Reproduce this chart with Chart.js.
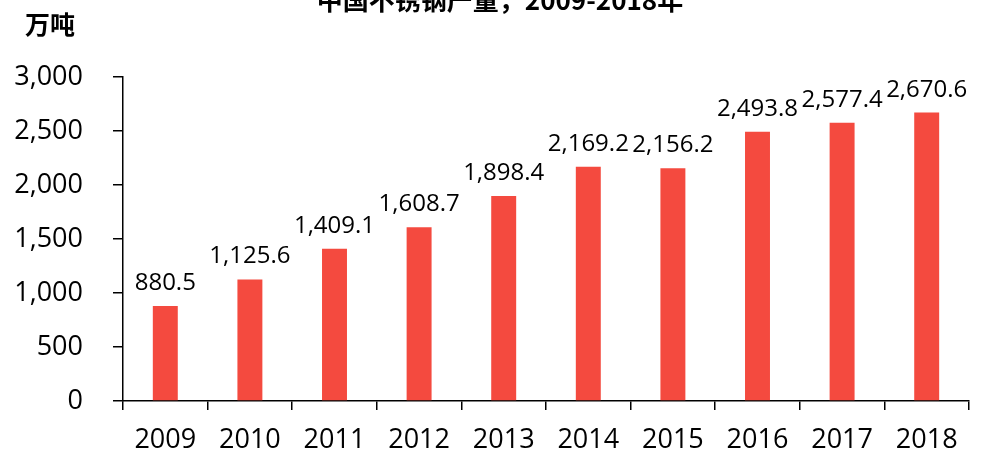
<!DOCTYPE html>
<html>
<head>
<meta charset="utf-8">
<script src="https://cdn.jsdelivr.net/npm/chart.js@4/dist/chart.umd.min.js"></script>
<style>
  html, body { margin: 0; padding: 0; background: #fff; }
  canvas { display: block; }
</style>
</head>
<body>
<canvas id="steelChart" width="984" height="451"></canvas>
<script>
// 年份 / 产量 (万吨)
const years = ['2009', '2010', '2011', '2012', '2013', '2014', '2015', '2016', '2017', '2018'];
const output = [880.5, 1125.6, 1409.1, 1608.7, 1898.4, 2169.2, 2156.2, 2493.8, 2577.4, 2670.6];
const chartTitle = '中国不锈钢产量，2009-2018年';
const unitLabel = '万吨';

const numFont = '"Open Sans", "Noto Sans", sans-serif';
const cjkFont = '"Noto Sans CJK SC", sans-serif';

// 标题、单位、数据标签
const textPlugin = {
    id: 'textPlugin',
    afterDatasetsDraw(chart){
        const ctx = chart.ctx;
        ctx.save();
        ctx.fillStyle = '#000';

        ctx.font = 'bold 26px ' + cjkFont;
        ctx.textAlign = 'center';
        ctx.textBaseline = 'alphabetic';
        ctx.fillText(chartTitle, 500, 10);

        ctx.font = 'bold 25px ' + cjkFont;
        ctx.textAlign = 'left';
        ctx.fillText(unitLabel, 25, 34);

        ctx.font = '24px ' + numFont;
        ctx.textAlign = 'center';
        const meta = chart.getDatasetMeta(0);
        meta.data.forEach(function(bar, i){
            const txt = output[i].toLocaleString('en-US', {minimumFractionDigits: 1, maximumFractionDigits: 1});
            ctx.fillText(txt, bar.x, bar.y - 16);
        });
        ctx.restore();
    }
};

const ctx = document.getElementById('steelChart').getContext('2d');
const steelChart = new Chart(ctx, {
    type: 'bar',
    data: {
        labels: years,
        datasets: [{
            label: unitLabel,
            data: output,
            backgroundColor: '#F44A3F',
            borderWidth: 0,
            categoryPercentage: 1,
            barPercentage: 0.295
        }]
    },
    options: {
        responsive: false,
        devicePixelRatio: 1,
        animation: false,
        layout: {
            padding: { top: 77, right: 15, bottom: 0, left: 0 }
        },
        scales: {
            x: {
                grid: {
                    offset: true,
                    drawOnChartArea: false,
                    drawTicks: true,
                    tickLength: 9,
                    color: '#000',
                    lineWidth: 1.5
                },
                border: { color: '#000', width: 1.5 },
                ticks: {
                    color: '#000',
                    font: { family: numFont, size: 27 },
                    padding: 14,
                    maxRotation: 0
                },
                afterFit(scale){ scale.height = 50; }
            },
            y: {
                min: 0,
                max: 3000,
                grid: {
                    drawOnChartArea: false,
                    drawTicks: true,
                    tickLength: 10,
                    color: '#000',
                    lineWidth: 1.5
                },
                border: { color: '#000', width: 1.5 },
                ticks: {
                    stepSize: 500,
                    color: '#000',
                    font: { family: numFont, size: 27 },
                    padding: 30,
                    callback: function(v){ return v.toLocaleString('en-US'); }
                },
                afterFit(scale){ scale.width = 123; }
            }
        },
        plugins: {
            legend: { display: false },
            tooltip: { enabled: false }
        }
    },
    plugins: [textPlugin]
});
</script>
</body>
</html>
